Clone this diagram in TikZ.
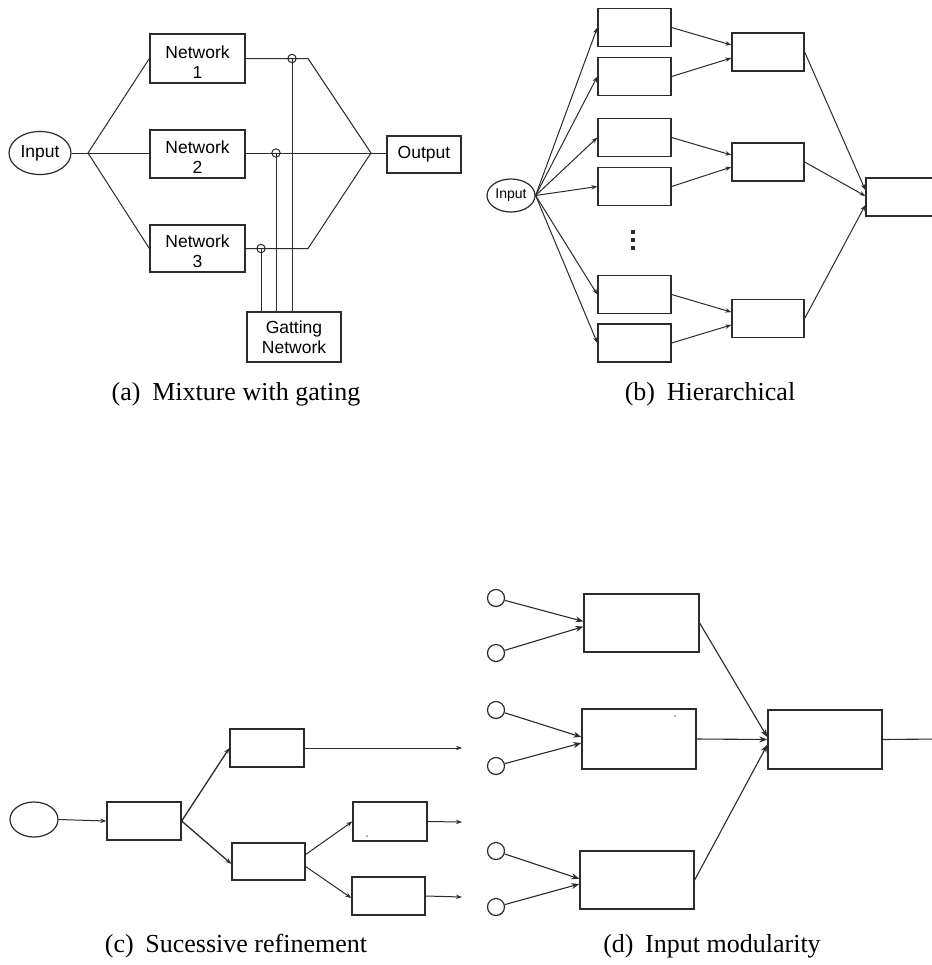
\documentclass[tikz,border=0pt]{standalone}
\usepackage{fontspec}
\setmainfont{Liberation Serif}
\setsansfont{Liberation Sans}
\usetikzlibrary{shapes.geometric,arrows.meta}
\definecolor{ink}{HTML}{2B2B2B}
\begin{document}
\begin{tikzpicture}[x=0.5pt,y=-0.5pt,
  blk/.style={draw=ink,line width=0.65pt,rectangle,inner sep=0pt,fill=white},
  lbl/.style={font=\sffamily\fontsize{8.75}{10}\selectfont,align=center},
  oval/.style={draw=ink,line width=0.6pt,ellipse,inner sep=0pt},
  wire/.style={draw=ink,line width=0.5pt},
  arr/.style={wire,-{Stealth[length=3pt,width=2.2pt]}},
  arrd/.style={wire,line width=0.55pt,-{Stealth[length=4pt,width=3pt]}},
  tap/.style={draw=ink,line width=0.5pt,circle,inner sep=0pt,minimum size=4.2pt},
  port/.style={draw=ink,line width=0.6pt,circle,inner sep=0pt,minimum size=8.5pt},
  subcap/.style={font=\fontsize{13}{15}\selectfont,anchor=base},
  dot/.style={fill=ink,rectangle,inner sep=0pt,minimum size=2pt}]
\clip (0,0) rectangle (932,965);
\fill[white] (0,0) rectangle (932,965);

% ---------------- (a) mixture with gating ----------------
\node[oval,minimum width=31pt,minimum height=21.5pt,lbl] (inA) at (40,153) {Input};
\coordinate (jA) at (88,153);
\coordinate (jB) at (371,153);
\node[blk,minimum width=47.5pt,minimum height=24.5pt] (n1) at (197.5,58.5) {};
\node[blk,minimum width=47.5pt,minimum height=24pt] (n2) at (197.5,154) {};
\node[blk,minimum width=47.5pt,minimum height=23.5pt] (n3) at (197.5,248.5) {};
\node[lbl] (n1t) at ([yshift=-2pt]n1.center) {Network\\1};
\node[lbl] (n2t) at ([yshift=-1.5pt]n2.center) {Network\\2};
\node[lbl] (n3t) at ([yshift=-1.3pt]n3.center) {Network\\3};
\node[blk,lbl,minimum width=37pt,minimum height=18.5pt] (out) at (424,154.5) {Output};
\node[blk,lbl,minimum width=47pt,minimum height=25pt] (gate) at (294,337) {Gatting\\Network};
\coordinate (k1) at (308,58.5);
\coordinate (k3) at (308,248.5);
\draw[wire] (inA.east) -- (jA);
\draw[wire] (jA) -- (n1.west);
\draw[wire] (jA) -- (n2.west |- jA);
\draw[wire] (jA) -- (n3.west);
\draw[wire] (n1.east) -- (k1) -- (jB);
\draw[wire] (n2.east |- jB) -- (jB);
\draw[wire] (n3.east) -- (k3) -- (jB);
\draw[wire] (jB) -- (out.west |- jB);
\node[tap] (g1) at (292,58.5) {};
\node[tap] (g2) at (276,153) {};
\node[tap] (g3) at (261,248.5) {};
\draw[wire] (g1.center) -- (g1.center |- gate.north);
\draw[wire] (g2.center) -- (g2.center |- gate.north);
\draw[wire] (g3.center) -- (g3.center |- gate.north);
\node[subcap] (capa) at (236,400) {(a)\hspace{0.45em}Mixture with gating};

% ---------------- (b) hierarchical ----------------
\node[oval,minimum width=24pt,minimum height=16.5pt,font=\sffamily\fontsize{7}{8}\selectfont] (inB) at (511,195.5) {Input};
\foreach \n/\y in {b1/27.5,b2/76.5,b3/137.5,b4/186.5,b5/294.5,b6/343}
  \node[blk,minimum width=36.5pt,minimum height=19pt] (\n) at (634.5,\y) {};
\foreach \n/\y in {c1/52,c2/162,c3/318.5}
  \node[blk,minimum width=36pt,minimum height=19pt] (\n) at (768,\y) {};
\node[blk,minimum width=39.5pt,minimum height=19pt] (top) at (905.5,197) {};
\foreach \n in {b1,b2,b3,b4,b5,b6}
  \draw[arr] (inB.east) -- (\n.west);
\draw[arr] (b1.east) -- ([yshift=3.5pt]c1.west);
\draw[arr] (b2.east) -- ([yshift=-3pt]c1.west);
\draw[arr] (b3.east) -- ([yshift=3.5pt]c2.west);
\draw[arr] (b4.east) -- ([yshift=-2.5pt]c2.west);
\draw[arr] (b5.east) -- ([yshift=3.2pt]c3.west);
\draw[arr] (b6.east) -- ([yshift=-3.2pt]c3.west);
\draw[arr] (c1.east) -- ([yshift=3.5pt]top.west);
\draw[arr] (c2.east) -- ([yshift=0.5pt]top.west);
\draw[arr] (c3.east) -- ([yshift=-4pt]top.west);
\node[dot] (v1) at (633,232) {};
\node[dot] (v2) at (633,240) {};
\node[dot] (v3) at (633,248) {};
\node[subcap] (capb) at (710,400) {(b)\hspace{0.45em}Hierarchical};

% ---------------- (c) successive refinement ----------------
\node[oval,minimum width=24pt,minimum height=17.5pt] (inC) at (34,819.5) {};
\node[blk,minimum width=37pt,minimum height=19pt] (d) at (144,821) {};
\node[blk,minimum width=37pt,minimum height=19pt] (e) at (267,748) {};
\node[blk,minimum width=36.5pt,minimum height=18.5pt] (f) at (268.5,861.5) {};
\node[blk,minimum width=37pt,minimum height=19.5pt] (g) at (390,821.5) {};
\node[blk,minimum width=36.5pt,minimum height=19pt] (h) at (388.5,896) {};
\coordinate (oe) at (462,748);
\coordinate (og) at (462,822);
\coordinate (oh) at (462,897);
\draw[arr] (inC.east) -- (d.west);
\draw[arr,line width=0.65pt] (d.east) -- (e.west);
\draw[arr,line width=0.65pt] (d.east) -- ([yshift=-1.2pt]f.west);
\draw[arr] (e.east) -- (oe);
\draw[arr] ([yshift=3.5pt]f.east) -- (g.west);
\draw[arr] ([yshift=-2.5pt]f.east) -- ([yshift=-1pt]h.west);
\draw[arr] (g.east) -- (og);
\draw[arr] (h.east) -- (oh);
\fill[ink!60] (367,836) circle (0.5pt);
\node[subcap] (capc) at (236,952) {(c)\hspace{0.45em}Sucessive refinement};

% ---------------- (d) input modularity ----------------
\foreach \n/\y in {p1/598,p2/653,p3/710,p4/766,p5/851,p6/907}
  \node[port] (\n) at (496,\y) {};
\node[blk,minimum width=57.5pt,minimum height=29pt] (m1) at (641.5,623) {};
\node[blk,minimum width=57pt,minimum height=30pt] (m2) at (639,739) {};
\node[blk,minimum width=57pt,minimum height=29pt] (m3) at (637,880) {};
\node[blk,minimum width=57pt,minimum height=29.5pt] (q) at (825,739.5) {};
\coordinate (oq) at (940,739);
\draw[arrd] (p1) -- ([yshift=0.8pt]m1.west);
\draw[arrd] (p2) -- ([yshift=-1.8pt]m1.west);
\draw[arrd] (p3) -- ([yshift=1pt]m2.west);
\draw[arrd] (p4) -- ([yshift=-2pt]m2.west);
\draw[arrd] (p5) -- ([yshift=0.6pt]m3.west);
\draw[arrd] (p6) -- ([yshift=-2pt]m3.west);
\draw[arrd] (m1.east) -- ([yshift=1.2pt]q.west);
\draw[arrd] (m2.east) -- (q.west);
\draw[arrd] (m3.east) -- ([yshift=-2.6pt]q.west);
\draw[wire,line width=0.55pt] (q.east) -- (oq);
\fill[ink!60] (675,716) circle (0.5pt);
\node[subcap] (capd) at (712,952) {(d)\hspace{0.45em}Input modularity};
\end{tikzpicture}
\end{document}
